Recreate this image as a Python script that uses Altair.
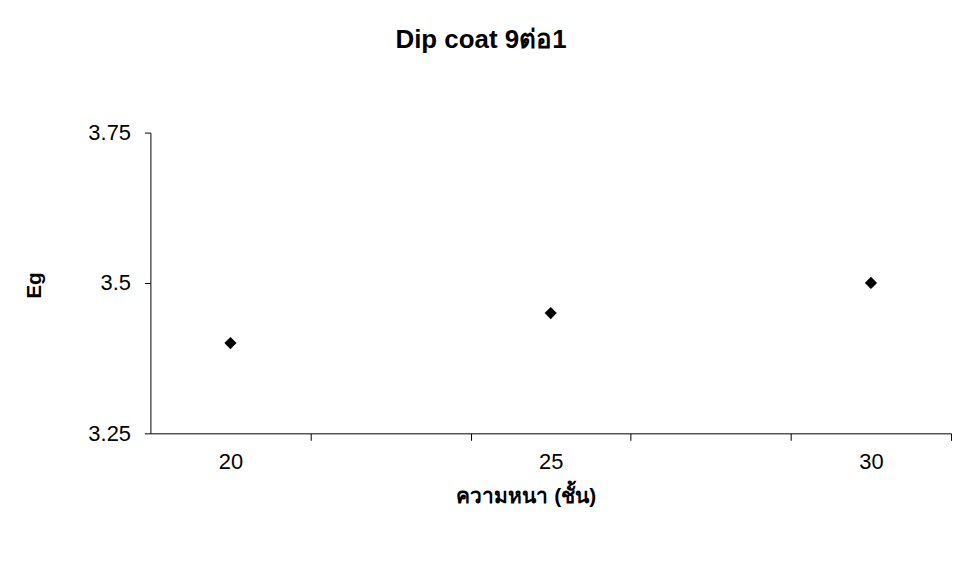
import altair as alt
import pandas as pd

thickness = [20, 25, 30]
eg = [3.40, 3.45, 3.50]
y_ticks = [3.25, 3.5, 3.75]
x_tick_marks = [21.25, 23.75, 26.25, 28.75, 31.25]
x_labels = [20, 25, 30]

df = pd.DataFrame({"thickness": thickness, "eg": eg})

font = "Liberation Sans"

chart = alt.Chart(df).mark_point(
    shape="diamond", filled=True, color="black", size=150, opacity=1
).encode(
    x=alt.X(
        "thickness:Q",
        scale=alt.Scale(domain=[18.75, 31.25], nice=False, zero=False),
        axis=alt.Axis(
            values=x_labels + x_tick_marks,
            labelExpr="indexof([20,25,30], datum.value) >= 0 ? datum.label : ''",
            tickOpacity={"condition": {"test": "indexof([20,25,30], datum.value) >= 0", "value": 0}, "value": 1},
            title="ความหนา (ชั้น)",
            grid=False,
            domainColor="black",
            tickColor="black",
            tickSize=7,
            labelFontSize=22,
            labelFont=font,
            labelColor="black",
            labelPadding=11,
            titleFont=font,
            titleFontSize=21,
            titleFontWeight="bold",
            titleColor="black",
            titleBaseline="middle",
            titleX=377,
            titleY=63,
        ),
    ),
    y=alt.Y(
        "eg:Q",
        scale=alt.Scale(domain=[3.25, 3.75], nice=False, zero=False),
        axis=alt.Axis(
            values=y_ticks,
            labelExpr="datum.value == 3.5 ? '3.5' : format(datum.value, '.2f')",
            title="Eg",
            grid=False,
            domainColor="black",
            tickColor="black",
            tickSize=6,
            labelFontSize=22,
            labelFont=font,
            labelColor="black",
            labelPadding=14,
            titleFont=font,
            titleFontSize=21,
            titleFontWeight="bold",
            titleColor="black",
            titleX=-106,
            titleY=153,
        ),
    ),
).properties(
    width=804,
    height=302,
    background="white",
    title=alt.TitleParams(
        "Dip coat 9ต่อ1",
        font=font,
        fontSize=26,
        fontWeight="bold",
        color="black",
        anchor="middle",
        dx=-70,
        offset=69,
    ),
    autosize=alt.AutoSizeParams(type="none"),
    padding={"left": 143, "top": 124, "right": 2, "bottom": 110},
).configure_view(stroke=None)

chart.save("out.html", embed_options={"renderer": "svg", "actions": False})
